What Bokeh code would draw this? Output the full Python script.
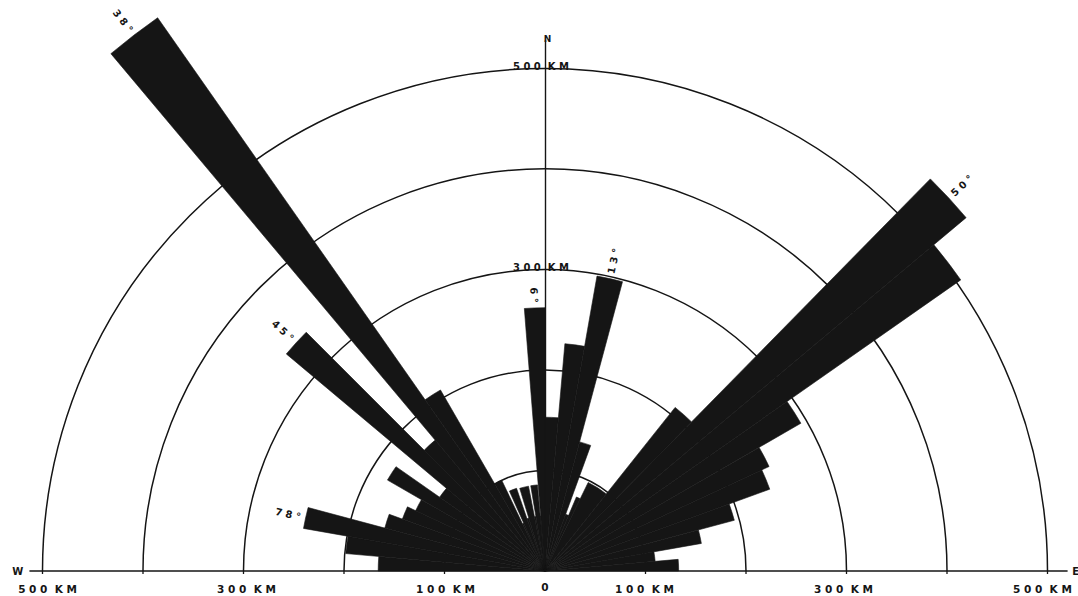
import math
import numpy as np
from bokeh.plotting import figure
from bokeh.models import Range1d, ColumnDataSource
from bokeh.embed import file_html
from bokeh.resources import INLINE
from bokeh.core.properties import value

# ---------------- data (azimuth in degrees from N; negative = west) ----------------
bin_edges_deg = [-90, -85, -80, -75, -70, -65, -60, -55, -50, -45, -40, -35, -30,
                 -25.5, -24, -19, -17, -11, -9.5, -5, -4.5, 0,
                 5, 10, 15, 20, 23, 26, 38.5, 44.5, 50, 55, 60, 65, 70, 75, 80, 85, 90]
length_km = [166, 199, 244, 165, 151, 142, 181, 128, 336, 170, 672, 208, 100,
             52, 87, 55, 86, 55, 86, 55, 262,
             153, 227, 298, 133, 60, 80, 98, 208, 547, 505, 294, 246, 238, 195, 158, 110, 133]

peak_labels = ["78°", "45°", "38°", "6°", "13°", "50°"]
peak_az_deg = [-77.5, -47.5, -37.5, -2.25, 12.5, 47.0]

NB = "\u00a0"
grid_radii_km = [100, 200, 300, 400, 500]
arc_label_radii_km = [300, 500]
arc_label_text = ["3 0 0  K M", "5 0 0  K M"]
scale_ticks_km = [-500, -300, -100, 0, 100, 300, 500]
scale_tick_labels = ["5 0 0  K M", "3 0 0  K M", "1 0 0  K M", "0",
                     "1 0 0  K M", "3 0 0  K M", "5 0 0  K M"]
tick_marks_km = [-500, -400, -300, -200, -100, 100, 200, 300, 400, 500]


def spaced(s):
    # keep the wide letter spacing of the original lettering (SVG collapses spaces)
    return s.replace(" ", NB)


# ---------------- style / layout ----------------
INK = "#151515"
FONT = value("DejaVu Sans")
PX = 1.005             # pixels per km
W, H = 1078, 596
CX, CY = 544.5, 570.5  # centre of the rose in pixels (from top-left)

p = figure(width=W, height=H,
           x_range=Range1d(-CX / PX, (W - CX) / PX),
           y_range=Range1d(-(H - CY) / PX, CY / PX),
           x_axis_type=None, y_axis_type=None,
           output_backend="svg", toolbar_location=None, min_border=0)
p.outline_line_color = None
p.background_fill_color = "white"
p.border_fill_color = "white"

# grid arcs
p.arc(x=0, y=0, radius=grid_radii_km, start_angle=0, end_angle=math.pi,
      line_color=INK, line_width=1.5)

# north line
p.segment(x0=[0.5], y0=[0], x1=[0.5], y1=[528], line_color=INK, line_width=1.4)

# rose bars
lo = np.array(bin_edges_deg[:-1], dtype=float)
hi = np.array(bin_edges_deg[1:], dtype=float)
src = ColumnDataSource(dict(r=length_km,
                            start=np.radians(90 - hi),
                            end=np.radians(90 - lo)))
p.wedge(x=0, y=0, radius="r", start_angle="start", end_angle="end", source=src,
        fill_color=INK, line_color=INK, line_width=0.6)

# base line W - E with tick marks
p.segment(x0=[-513], y0=[0], x1=[520], y1=[0], line_color=INK, line_width=1.6)
p.segment(x0=tick_marks_km, y0=[0] * len(tick_marks_km),
          x1=tick_marks_km, y1=[-3] * len(tick_marks_km),
          line_color=INK, line_width=1.3)
p.text(x=[-524.5], y=[-0.5], text=["W"], text_align="center", text_baseline="middle",
       text_font=FONT, text_font_style="bold", text_font_size="10px", text_color=INK)
p.text(x=[528], y=[-0.5], text=["E"], text_align="center", text_baseline="middle",
       text_font=FONT, text_font_style="bold", text_font_size="10px", text_color=INK)
p.text(x=[2.5], y=[529], text=["N"], text_align="center", text_baseline="alphabetic",
       text_font=FONT, text_font_style="bold", text_font_size="9px", text_color=INK)

# distance labels along the base (kept inside the page at the far ends)
p.text(x=[t * 0.99 for t in scale_ticks_km], y=[-11.5] * len(scale_ticks_km),
       text=[spaced(t) for t in scale_tick_labels],
       text_align="center", text_baseline="top",
       text_font=FONT, text_font_style="bold", text_font_size="10.5px", text_color=INK)

# distance labels on the arcs
p.text(x=[-4] * len(arc_label_radii_km), y=[r + 1.5 for r in arc_label_radii_km],
       text=[spaced(t) for t in arc_label_text], text_align="center",
       text_baseline="alphabetic",
       text_font=FONT, text_font_style="bold", text_font_size="10px", text_color=INK)

# peak direction labels at the end of the bars
def bin_of(az):
    for i in range(len(length_km)):
        if bin_edges_deg[i] <= az < bin_edges_deg[i + 1]:
            return i
    return len(length_km) - 1

west = dict(x=[], y=[], text=[], angle=[])
east = dict(x=[], y=[], text=[], angle=[])
for lab, az in zip(peak_labels, peak_az_deg):
    i = bin_of(az)
    mid = 0.5 * (bin_edges_deg[i] + bin_edges_deg[i + 1])
    rr = length_km[i] + 5
    th = math.radians(90 - mid)
    d = west if mid < 0 else east
    d["x"].append(rr * math.cos(th))
    d["y"].append(rr * math.sin(th))
    d["text"].append(spaced(" ".join(lab)))
    d["angle"].append(th - math.pi if mid < 0 else th)

p.text(x="x", y="y", text="text", angle="angle", source=ColumnDataSource(west),
       text_align="right", text_baseline="middle",
       text_font=FONT, text_font_style="bold", text_font_size="10px", text_color=INK)
p.text(x="x", y="y", text="text", angle="angle", source=ColumnDataSource(east),
       text_align="left", text_baseline="middle",
       text_font=FONT, text_font_style="bold", text_font_size="10px", text_color=INK)

open("out.html", "w").write(file_html(p, INLINE))
